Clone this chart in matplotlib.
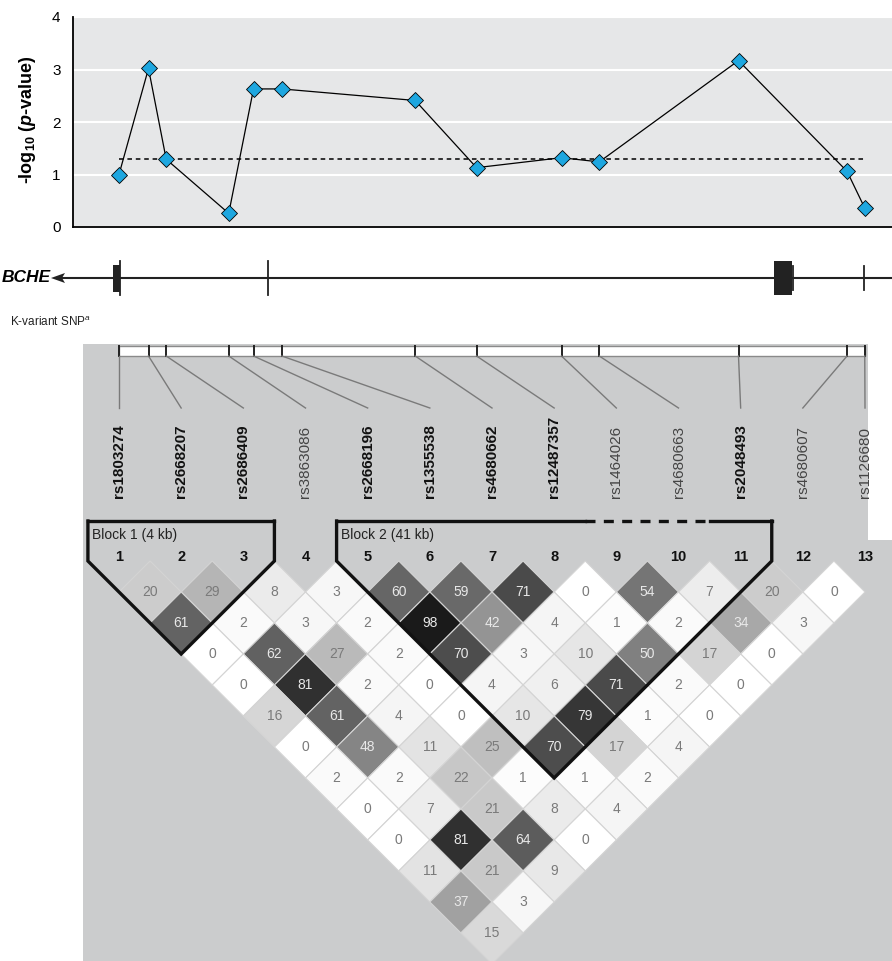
import matplotlib.pyplot as plt
from matplotlib.patches import Polygon, Rectangle

plt.rcParams['font.family'] = ['Liberation Sans', 'DejaVu Sans']
plt.rcParams['mathtext.fontset'] = 'custom'
plt.rcParams['mathtext.rm'] = 'Liberation Sans'
plt.rcParams['mathtext.it'] = 'Liberation Sans:italic'
plt.rcParams['mathtext.bf'] = 'Liberation Sans:bold'
plt.rcParams['mathtext.bfit'] = 'Liberation Sans:bold:italic'

# SNPs genotyped across BCHE (position in kb from rs1803274)
snp_ids = ['rs1803274', 'rs2668207', 'rs2686409', 'rs3863086', 'rs2668196',
           'rs1355538', 'rs4680662', 'rs12487357', 'rs1464026', 'rs4680663',
           'rs2048493', 'rs4680607', 'rs1126680']
snp_kb = [0.0, 2.5, 4.0, 9.3, 11.4, 13.8, 25.1, 30.3, 37.5, 40.7, 52.5, 61.7, 63.2]
snp_logp = [1.0, 3.02, 1.29, 0.26, 2.63, 2.63, 2.41, 1.13, 1.32, 1.24, 3.17, 1.06, 0.36]
snp_bold = [True, True, True, False, True, True, True, True, False, False, True, False, False]
sig_line = 1.301  # -log10(0.05)

# gene model: exons (kb) and exon/intron boundary marks
gene_exons = [(-0.5, 0.1), (55.5, 57.0)]
exon_half = [13.5, 17]
gene_marks = [0.1, 12.6, 57.1, 63.1]
mark_half = [17, 17, 12, 12]

# pairwise r2 (x100); ld_rows[k] holds pairs (i, i+k+1)
ld_rows = [
    [20, 29, 8, 3, 60, 59, 71, 0, 54, 7, 20, 0],
    [61, 2, 3, 2, 98, 42, 4, 1, 2, 34, 3],
    [0, 62, 27, 2, 70, 3, 10, 50, 17, 0],
    [0, 81, 2, 0, 4, 6, 71, 2, 0],
    [16, 61, 4, 0, 10, 79, 1, 0],
    [0, 48, 11, 25, 70, 17, 4],
    [2, 2, 22, 1, 1, 2],
    [0, 7, 21, 8, 4],
    [0, 81, 64, 0],
    [11, 21, 9],
    [37, 3],
    [15],
]
blocks = [(1, 3, 'Block 1 (4 kb)'), (5, 11, 'Block 2 (41 kb)')]

W, H = 892, 961
fig = plt.figure(figsize=(W / 100, H / 100), dpi=100)

# pixel-space layer for gene track and LD map
bg = fig.add_axes([0, 0, 1, 1])
bg.set_xlim(0, W)
bg.set_ylim(H, 0)
bg.axis('off')
bg.patch.set_visible(False)

X0, KBPX = 119, 11.8


def kb2px(kb):
    return X0 + kb * KBPX


# top panel: association results
ax = fig.add_axes([73 / W, 1 - 227 / H, (W - 73) / W, 210 / H])
ax.set_facecolor('#e6e7e8')
ax.set_xlim((73 - X0) / KBPX, (W - X0) / KBPX)
ax.set_ylim(0, 4)
ax.set_yticks([0, 1, 2, 3, 4])
ax.set_xticks([])
ax.tick_params(length=0, pad=9, labelsize=11)
ax.yaxis.grid(True, color='white', lw=1.5)
ax.set_axisbelow(True)
for s in ['top', 'right']:
    ax.spines[s].set_visible(False)
for s in ['left', 'bottom']:
    ax.spines[s].set_linewidth(1.3)
ax.plot([snp_kb[0], snp_kb[-1]], [sig_line, sig_line], color='black', lw=1.1,
        dashes=(3, 2.5))
ax.plot(snp_kb, snp_logp, color='black', lw=0.9, marker='D', markersize=8,
        markerfacecolor='#1ea7e0', markeredgecolor='black', markeredgewidth=0.6)
fig.text(27 / W, 1 - 120 / H, '-log$_{\\mathbf{10}}$ ($\\mathbfit{p}$-value)',
         rotation=90, ha='center', va='center', fontsize=13, fontweight='bold')

# gene track
gy = 278
bg.plot([58, W], [gy, gy], color='#222222', lw=1.5)
bg.add_patch(Polygon([(51, gy), (65, gy - 5), (62, gy), (65, gy + 5)],
                     closed=True, fc='#222222', ec='none'))
for (a, b), hh in zip(gene_exons, exon_half):
    bg.add_patch(Rectangle((kb2px(a), gy - hh), kb2px(b) - kb2px(a), 2 * hh,
                           fc='#222222', ec='none'))
for m, hh in zip(gene_marks, mark_half):
    bg.plot([kb2px(m), kb2px(m)], [gy - hh, gy + hh], color='#222222', lw=1.3)
bg.text(51, gy, 'BCHE', ha='right', va='center', fontsize=12.5,
        fontweight='bold', fontstyle='italic')
bg.text(10, 322, 'K-variant SNP$^{\\mathit{a}}$', ha='left', va='center',
        fontsize=8.5, color='#222222')

# LD panel background and SNP position bar
panel = '#cbcccd'
bg.add_patch(Rectangle((83, 344), 868 - 83, H - 344 + 5, fc=panel, ec='none'))
bg.add_patch(Rectangle((868, 540), W - 868 + 5, H - 540 + 5, fc=panel, ec='none'))
n = len(snp_ids)
step = (865 - 119) / (n - 1)
mx = [119 + k * step for k in range(n)]
bar_top, bar_bot = 346, 356
bg.add_patch(Rectangle((kb2px(snp_kb[0]), bar_top), kb2px(snp_kb[-1]) - kb2px(snp_kb[0]),
                       bar_bot - bar_top, fc='white', ec='#8a8a8a', lw=1))
for k in range(n):
    sx = kb2px(snp_kb[k])
    bg.plot([sx, sx], [bar_top, bar_bot], color='#222222', lw=1.4)
    bg.plot([sx, mx[k]], [bar_bot, 408], color='#7a7a7a', lw=1)
    bg.text(mx[k], 498, snp_ids[k], rotation=90, ha='center', va='bottom',
            fontsize=11, fontweight='bold' if snp_bold[k] else 'normal',
            color='#111111' if snp_bold[k] else '#444444')

# LD diamonds, shaded by r2
hw, hh = step / 2, 31
ytop = 561
for d, row in enumerate(ld_rows, start=1):
    for i, v in enumerate(row):
        j = i + d
        cx = (mx[i] + mx[j]) / 2
        cy = ytop + d * hh
        g = max(1 - v / 100.0, 0.1)
        bg.add_patch(Polygon([(cx, cy - hh), (cx + hw, cy), (cx, cy + hh), (cx - hw, cy)],
                             closed=True, fc=(g, g, g), ec='#d4d4d4', lw=0.8))
        bg.text(cx, cy, str(v), ha='center', va='center', fontsize=10,
                color='#e8e8e8' if v >= 30 else '#7a7a7a')

for k in range(n):
    bg.text(mx[k], 557, str(k + 1), ha='center', va='center', fontsize=10.5,
            fontweight='bold', color='#111111')

# haplotype block outlines
btop = 521
for a, b, label in blocks:
    xl = mx[a - 1] - hw
    xr = mx[b - 1] + hw
    yb = ytop + (b - a + 1) * hh
    bg.plot([xl, xl, (xl + xr) / 2, xr, xr], [btop, ytop, yb, ytop, btop],
            color='#111111', lw=2.4, solid_joinstyle='miter')
    bg.text(xl + 4, 535, label, ha='left', va='center', fontsize=10, color='#222222')
    if b - a > 4:
        d1 = (mx[7] + mx[8]) / 2
        d2 = (mx[9] + mx[10]) / 2
        bg.plot([xl, d1], [btop, btop], color='#111111', lw=2.4)
        bg.plot([d1, d2], [btop, btop], color='#111111', lw=2.4, dashes=(3, 2.5))
        bg.plot([d2, xr], [btop, btop], color='#111111', lw=2.4)
    else:
        bg.plot([xl, xr], [btop, btop], color='#111111', lw=2.4)

fig.savefig('out.png', dpi=100)
